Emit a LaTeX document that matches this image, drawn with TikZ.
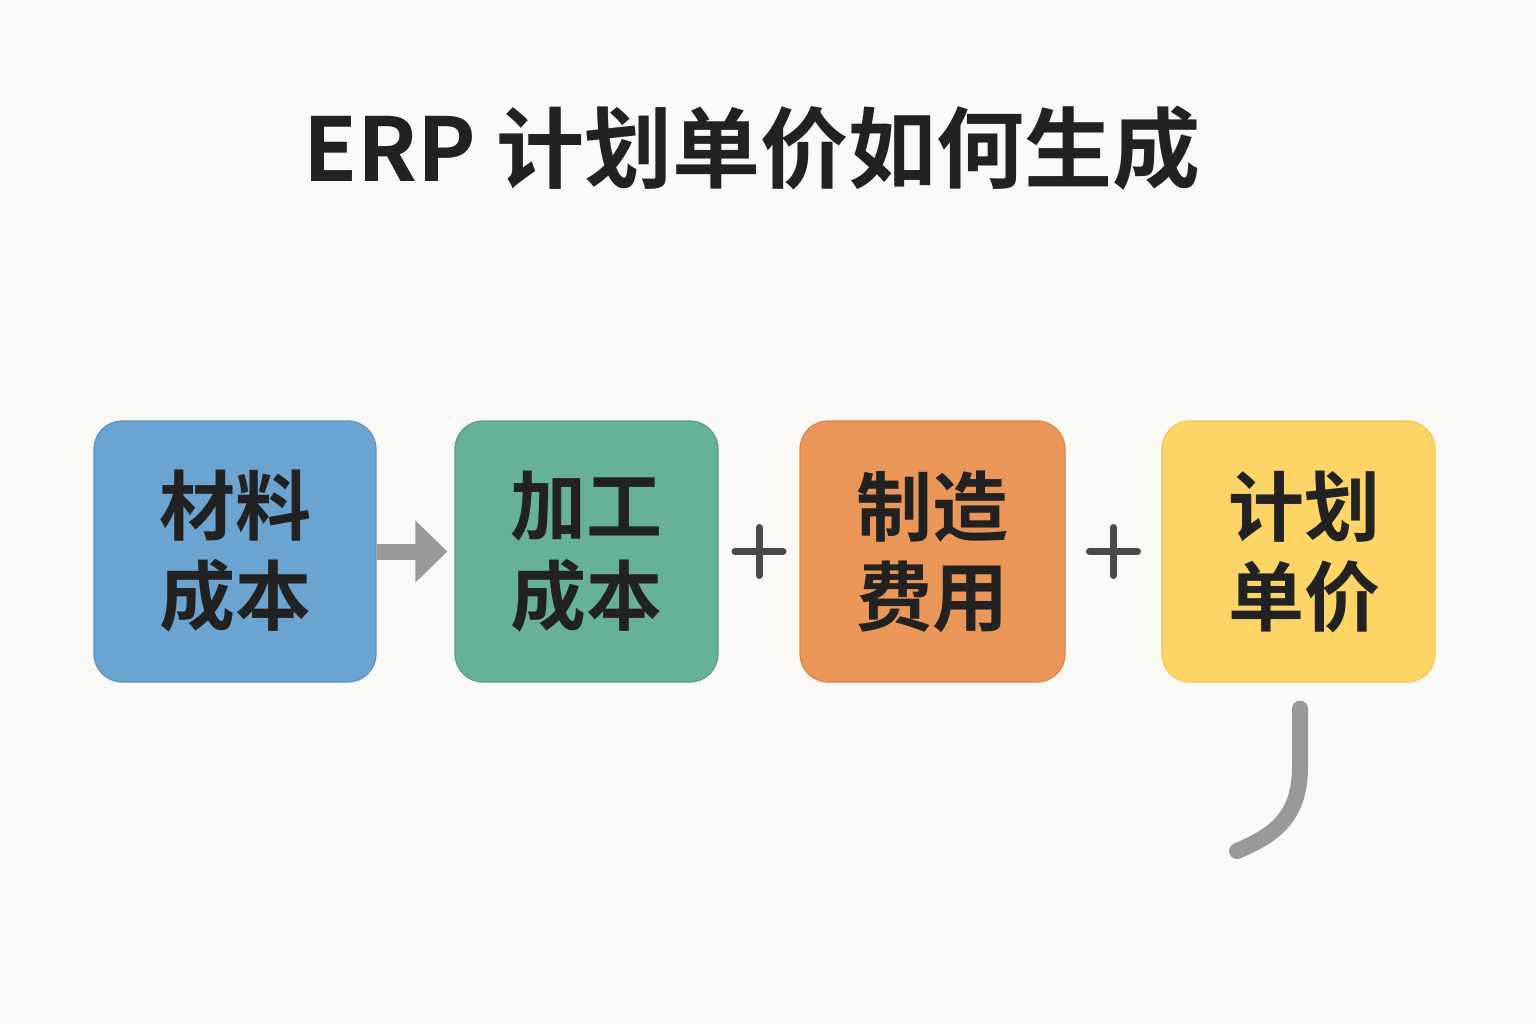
\documentclass[tikz,border=0pt]{standalone}
\usepackage{fontspec}
\newfontfamily\cjk{Noto Sans CJK SC}[BoldFont={Noto Sans CJK SC Bold}]
\usetikzlibrary{positioning,calc,arrows.meta}
\definecolor{bg}{HTML}{FBF9F6}
\definecolor{ink}{HTML}{222222}
\definecolor{blueF}{HTML}{6CA4D1}
\definecolor{blueD}{HTML}{5A93C4}
\definecolor{greenF}{HTML}{66B197}
\definecolor{greenD}{HTML}{56A086}
\definecolor{orangeF}{HTML}{EA9659}
\definecolor{orangeD}{HTML}{DC8549}
\definecolor{yellowF}{HTML}{FDD466}
\definecolor{yellowD}{HTML}{F4C550}
\definecolor{arrowG}{HTML}{9B9996}
\definecolor{plusG}{HTML}{4A4A4A}
\tikzset{
  box/.style={rounded corners=28pt, line width=1.2pt, minimum height=261pt,
    inner sep=0pt, align=center, text=ink,
    font=\cjk\bfseries\fontsize{76}{90}\selectfont},
  plus/.style={line width=7pt, line cap=round, draw=plusG},
}
\begin{document}
\begin{tikzpicture}[x=1pt,y=-1pt]
  \fill[bg] (0,0) rectangle (1536,1024);
  \useasboundingbox (0,0) rectangle (1536,1024);
  \node (t) at (752,148) {\cjk\bfseries\fontsize{88}{90}\selectfont\color{ink}ERP 计划单价如何生成};
  \node (a) [box, fill=blueF, draw=blueD, minimum width=282pt] at (235,551.5) {材料\\成本};
  \node (b) [box, fill=greenF, draw=greenD, minimum width=263pt] at (586.5,551.5) {加工\\成本};
  \node (c) [box, fill=orangeF, draw=orangeD, minimum width=265pt] at (932.5,551.5) {制造\\费用};
  \node (d) [box, fill=yellowF, draw=yellowD, minimum width=273pt] at (1298.5,551.5) {\hspace*{12pt}计划\\\hspace*{12pt}单价};
  \draw[arrowG, line width=16pt, -{Triangle[length=32pt,width=60pt]}, shorten >=7pt] (a.east) -- (b.west);
  \coordinate (p) at ($(b.east)!0.5!(c.west)$);
  \coordinate (q) at ($(c.east)!0.5!(d.west)$);
  \begin{scope}[plus]
    \draw ([xshift=-24pt]p) -- ([xshift=24pt]p);
    \draw ([yshift=-24pt]p) -- ([yshift=24pt]p);
    \draw ([xshift=-24pt]q) -- ([xshift=24pt]q);
    \draw ([yshift=-24pt]q) -- ([yshift=24pt]q);
  \end{scope}
  \coordinate (h) at ([xshift=1.5pt,yshift=-26pt]d.south);
  \coordinate (e) at (1237,851);
  \draw[arrowG, line width=16pt, line cap=round] (h) -- ++(0,58) .. controls ++(0,50) and ++(38,-16) .. (e);
\end{tikzpicture}
\end{document}
